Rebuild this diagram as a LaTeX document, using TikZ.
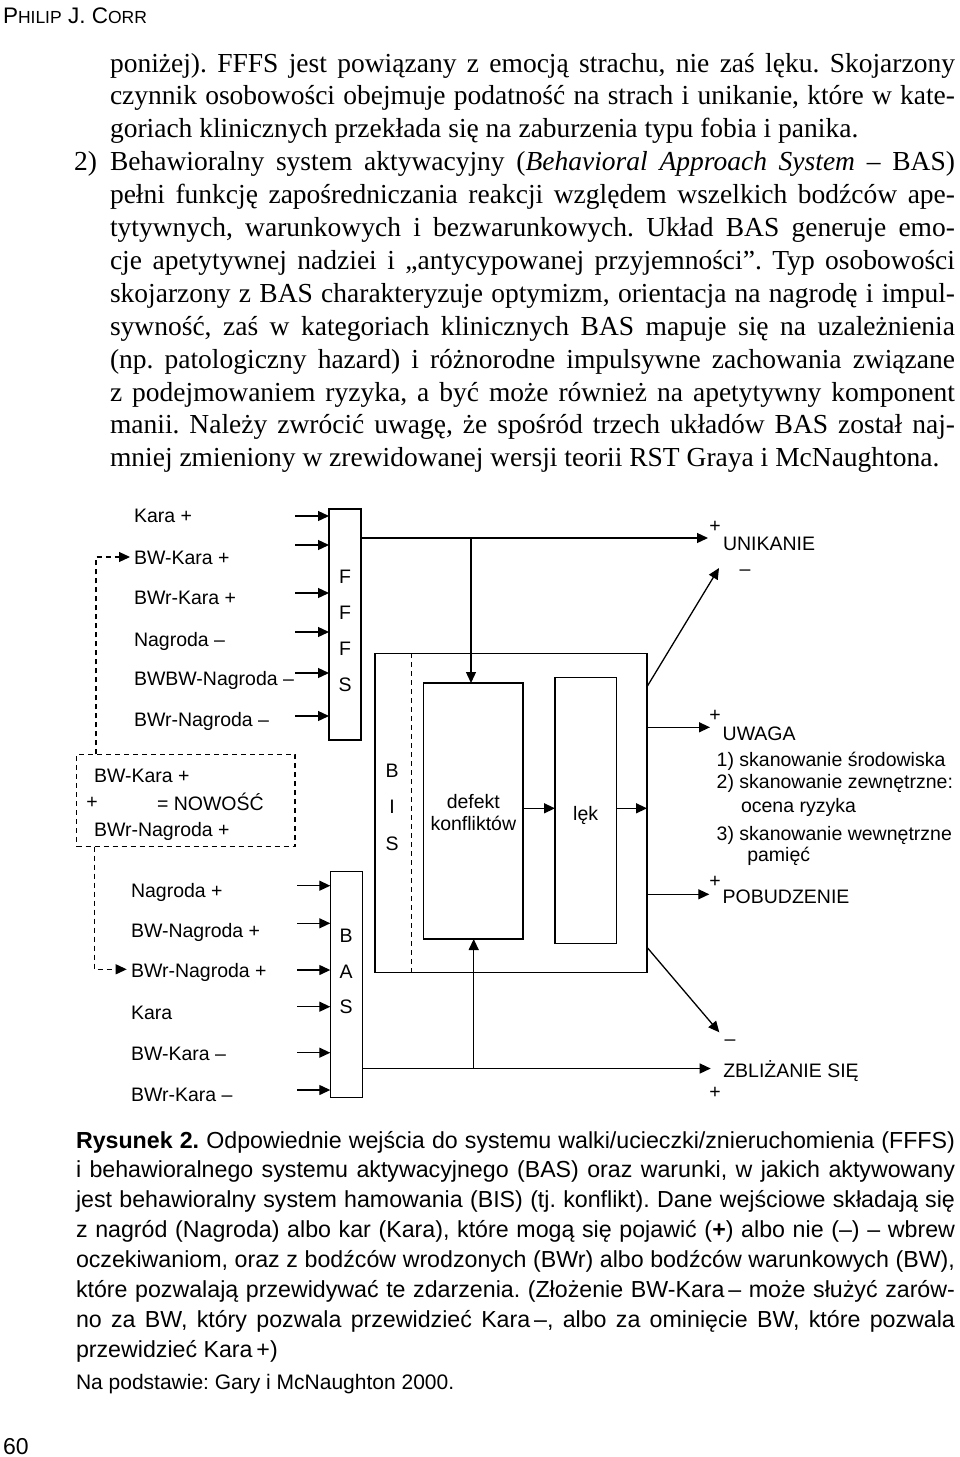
\documentclass[tikz,border=0pt]{standalone}
\usepackage{fontspec}
\setmainfont{Liberation Serif}
\newfontfamily\arialf{Liberation Sans}
\usetikzlibrary{arrows.meta}
\newcommand{\bodyline}[1]{\makebox[845pt][s]{#1}}
\newcommand{\capline}[1]{\makebox[879pt][s]{#1}}
\begin{document}
\begin{tikzpicture}[x=1pt,y=-1pt,
  every node/.style={inner sep=0pt, outer sep=0pt},
  body/.style={anchor=base west, font=\frenchspacing\fontsize{27.5}{33}\selectfont},
  capt/.style={anchor=base west, font=\frenchspacing\arialf\fontsize{23.2}{29}\selectfont},
  lab/.style={anchor=base west, font=\arialf\fontsize{19.5}{23}\selectfont},
  letter/.style={anchor=base, font=\arialf\fontsize{19.5}{23}\selectfont},
  sign/.style={font=\arialf\fontsize{19.5}{23}\selectfont},
  box/.style={draw, line width=1.3pt},
  dbox/.style={draw, line width=1.2pt, dash pattern=on 5pt off 4pt},
  conn/.style={line width=1.3pt},
  arr/.style={conn, -{Triangle[length=11pt,width=10pt]}},
  darr/.style={line width=1.2pt, dash pattern=on 5pt off 4pt, -{Triangle[length=11pt,width=10pt]}},
  dline/.style={line width=1.2pt, dash pattern=on 5pt off 4pt}
]
\useasboundingbox (0,0) rectangle (960,1457);

% header and page number
\node[anchor=base west, font=\arialf\fontsize{22.5}{27}\selectfont] (hdr) at (3,23)
  {P{\fontsize{17.5}{20}\selectfont HILIP} J. C{\fontsize{17.5}{20}\selectfont ORR}};
\node[anchor=base west, font=\arialf\fontsize{23}{27}\selectfont] (pg) at (3,1454) {60};

% body text
\node[body] (b1) at (110,72) {\bodyline{poniżej). FFFS jest powiązany z emocją strachu, nie zaś lęku. Skojarzony}};
\node[body] (b2) at (110,104.9) {\bodyline{czynnik osobowości obejmuje podatność na strach i unikanie, które w kate-}};
\node[body] (b3) at (110,137.8) {goriach klinicznych przekłada się na zaburzenia typu fobia i panika.};
\node[body] (b4n) at (74,170.7) {2)};
\node[body] (b4) at (110,170.7) {\bodyline{Behawioralny system aktywacyjny (\textit{Behavioral Approach System} – BAS)}};
\node[body] (b5) at (110,203.6) {\bodyline{pełni funkcję zapośredniczania reakcji względem wszelkich bodźców ape-}};
\node[body] (b6) at (110,236.5) {\bodyline{tytywnych, warunkowych i bezwarunkowych. Układ BAS generuje emo-}};
\node[body] (b7) at (110,269.4) {\bodyline{cje apetytywnej nadziei i „antycypowanej przyjemności”. Typ osobowości}};
\node[body] (b8) at (110,302.3) {\bodyline{skojarzony z BAS charakteryzuje optymizm, orientacja na nagrodę i impul-}};
\node[body] (b9) at (110,335.2) {\bodyline{sywność, zaś w kategoriach klinicznych BAS mapuje się na uzależnienia}};
\node[body] (b10) at (110,368.1) {\bodyline{(np. patologiczny hazard) i różnorodne impulsywne zachowania związane}};
\node[body] (b11) at (110,401) {\bodyline{z podejmowaniem ryzyka, a być może również na apetytywny komponent}};
\node[body] (b12) at (110,433.9) {\bodyline{manii. Należy zwrócić uwagę, że spośród trzech układów BAS został naj-}};
\node[body] (b13) at (110,466.8) {mniej zmieniony w zrewidowanej wersji teorii RST Graya i McNaughtona.};

% caption
\node[capt] (c1) at (76,1148) {\capline{\textbf{Rysunek 2.} Odpowiednie wejścia do systemu walki/ucieczki/znieruchomienia (FFFS)}};
\node[capt] (c2) at (76,1177.9) {\capline{i behawioralnego systemu aktywacyjnego (BAS) oraz warunki, w jakich aktywowany}};
\node[capt] (c3) at (76,1207.8) {\capline{jest behawioralny system hamowania (BIS) (tj. konflikt). Dane wejściowe składają się}};
\node[capt] (c4) at (76,1237.7) {\capline{z nagród (Nagroda) albo kar (Kara), które mogą się pojawić (\textbf{+}) albo nie (–) – wbrew}};
\node[capt] (c5) at (76,1267.6) {\capline{oczekiwaniom, oraz z bodźców wrodzonych (BWr) albo bodźców warunkowych (BW),}};
\node[capt] (c6) at (76,1297.5) {\capline{które pozwalają przewidywać te zdarzenia. (Złożenie BW-Kara\,– może służyć zarów-}};
\node[capt] (c7) at (76,1327.4) {\capline{no za BW, który pozwala przewidzieć Kara\,–, albo za ominięcie BW, które pozwala}};
\node[capt] (c8) at (76,1357.3) {przewidzieć Kara\,+)};
\node[capt, font=\frenchspacing\arialf\fontsize{21}{26}\selectfont] (c9) at (76,1389) {Na podstawie: Gary i McNaughton 2000.};

% ---------------- diagram boxes
\node[box, minimum width=32pt, minimum height=231pt] (fffs) at (345,624.5) {};
\node[box, minimum width=272pt, minimum height=319pt] (bis) at (511,812.8) {};
\node[box, minimum width=99.3pt, minimum height=256pt] (defekt) at (473.35,811) {};
\node[box, minimum width=61.3pt, minimum height=265.6pt] (lek) at (585.65,810.5) {};
\node[box, minimum width=32pt, minimum height=226pt] (bas) at (346.3,984.3) {};
\node[dbox, minimum width=218.3pt, minimum height=92.4pt] (nowosc) at (185.85,800.5) {};
\coordinate (bisd1) at (411.7,653.3);
\coordinate (bisd2) at (411.7,972.3);
\draw[dline] (bisd1) -- (bisd2);

% letters in boxes
\node[letter] (fF1) at (345,583) {F};
\node[letter] (fF2) at (345,619) {F};
\node[letter] (fF3) at (345,655) {F};
\node[letter] (fS) at (345,691) {S};
\node[letter] (iB) at (392,777) {B};
\node[letter] (iI) at (392,813) {I};
\node[letter] (iS) at (392,850) {S};
\node[letter] (aB) at (346,942) {B};
\node[letter] (aA) at (346,978.7) {A};
\node[letter] (aS) at (346,1013.7) {S};
\node[letter] (def1) at (473.35,808.5) {defekt};
\node[letter] (def2) at (473.35,830) {konfliktów};
\node[letter] (lekt) at (585.65,820) {lęk};

% FFFS input labels
\node[lab] (l1) at (134,522.5) {Kara +};
\node[lab] (l2) at (134,564) {BW-Kara +};
\node[lab] (l3) at (134,604) {BWr-Kara +};
\node[lab] (l4) at (134,646.5) {Nagroda –};
\node[lab] (l5) at (134,685.5) {BWBW-Nagroda –};
\node[lab] (l6) at (134,726.5) {BWr-Nagroda –};

% NOWOSC box texts
\node[lab] (n1) at (94,782) {BW-Kara +};
\node[sign] (n2) at (92,803) {+};
\node[lab] (n3) at (157,810) {= NOWOŚĆ};
\node[lab] (n4) at (94,836) {BWr-Nagroda +};

% BAS input labels
\node[lab] (m1) at (131,897) {Nagroda +};
\node[lab] (m2) at (131,937.5) {BW-Nagroda +};
\node[lab] (m3) at (131,977) {BWr-Nagroda +};
\node[lab] (m4) at (131,1019.5) {Kara};
\node[lab] (m5) at (131,1060.5) {BW-Kara –};
\node[lab] (m6) at (131,1101) {BWr-Kara –};

% right-hand outputs
\node[sign] (s1) at (715,527) {+};
\node[lab] (o1) at (723,550) {UNIKANIE};
\node[sign] (s2) at (745,573) {–};
\node[sign] (s3) at (715,716) {+};
\node[lab] (o2) at (722.7,740) {UWAGA};
\node[lab] (o2a) at (716.7,766.5) {1) skanowanie środowiska};
\node[lab] (o2b) at (716.7,788) {2) skanowanie zewnętrzne:};
\node[lab] (o2c) at (741,812) {ocena ryzyka};
\node[lab] (o2d) at (716.7,840) {3) skanowanie wewnętrzne};
\node[lab] (o2e) at (747.3,861.5) {pamięć};
\node[sign] (s4) at (715,881.7) {+};
\node[lab] (o3) at (722.7,903.5) {POBUDZENIE};
\node[sign] (s5) at (730,1042.7) {–};
\node[lab] (o4) at (723.3,1077.5) {ZBLIŻANIE SIĘ};
\node[sign] (s6) at (715,1093.3) {+};

% FFFS input arrows
\foreach \i/\yy in {1/516,2/545,3/593,4/632,5/673,6/716}{
  \coordinate (fi\i) at (295,\yy);
  \draw[arr] (fi\i) -- (fi\i -| fffs.west);
}
% BAS input arrows
\foreach \i/\yy in {1/885.7,2/923.3,3/970,4/1006.7,5/1052.7,6/1090}{
  \coordinate (bi\i) at (297.3,\yy);
  \draw[arr] (bi\i) -- (bi\i -| bas.west);
}

% FFFS output
\coordinate (tUnik) at (708,538);
\coordinate (br1) at (471,538);
\draw[arr] (fffs.east |- tUnik) -- (tUnik);
\draw[arr] (br1) -- (br1 |- defekt.north);

% BAS output
\coordinate (tZbl) at (710.7,1068.5);
\coordinate (br2) at (473.7,1068.5);
\draw[arr] (bas.east |- tZbl) -- (tZbl);
\draw[arr] (br2) -- (br2 |- defekt.south);

% inner arrows
\coordinate (mid) at (0,808.3);
\draw[arr] (defekt.east |- mid) -- (lek.west |- mid);
\draw[arr] (lek.east |- mid) -- (bis.east |- mid);

% BIS outputs
\coordinate (q1) at (0,686.7);
\coordinate (tUnikMinus) at (719,568);
\draw[arr] (bis.east |- q1) -- (tUnikMinus);
\coordinate (tUwaga) at (710,727.3);
\draw[arr] (bis.east |- tUwaga) -- (tUwaga);
\coordinate (tPob) at (709.3,894.3);
\draw[arr] (bis.east |- tPob) -- (tPob);
\coordinate (q4) at (0,947.3);
\coordinate (tZblMinus) at (719.3,1032.3);
\draw[arr] (bis.east |- q4) -- (tZblMinus);

% dashed NOWOSC links
\coordinate (d1) at (96,557);
\coordinate (d1t) at (130,557);
\draw[darr] (nowosc.north -| d1) -- (d1) -- (d1t);
\coordinate (d2) at (94.3,969.3);
\coordinate (d2t) at (126.7,969.3);
\draw[darr] (nowosc.south -| d2) -- (d2) -- (d2t);
\end{tikzpicture}
\end{document}
